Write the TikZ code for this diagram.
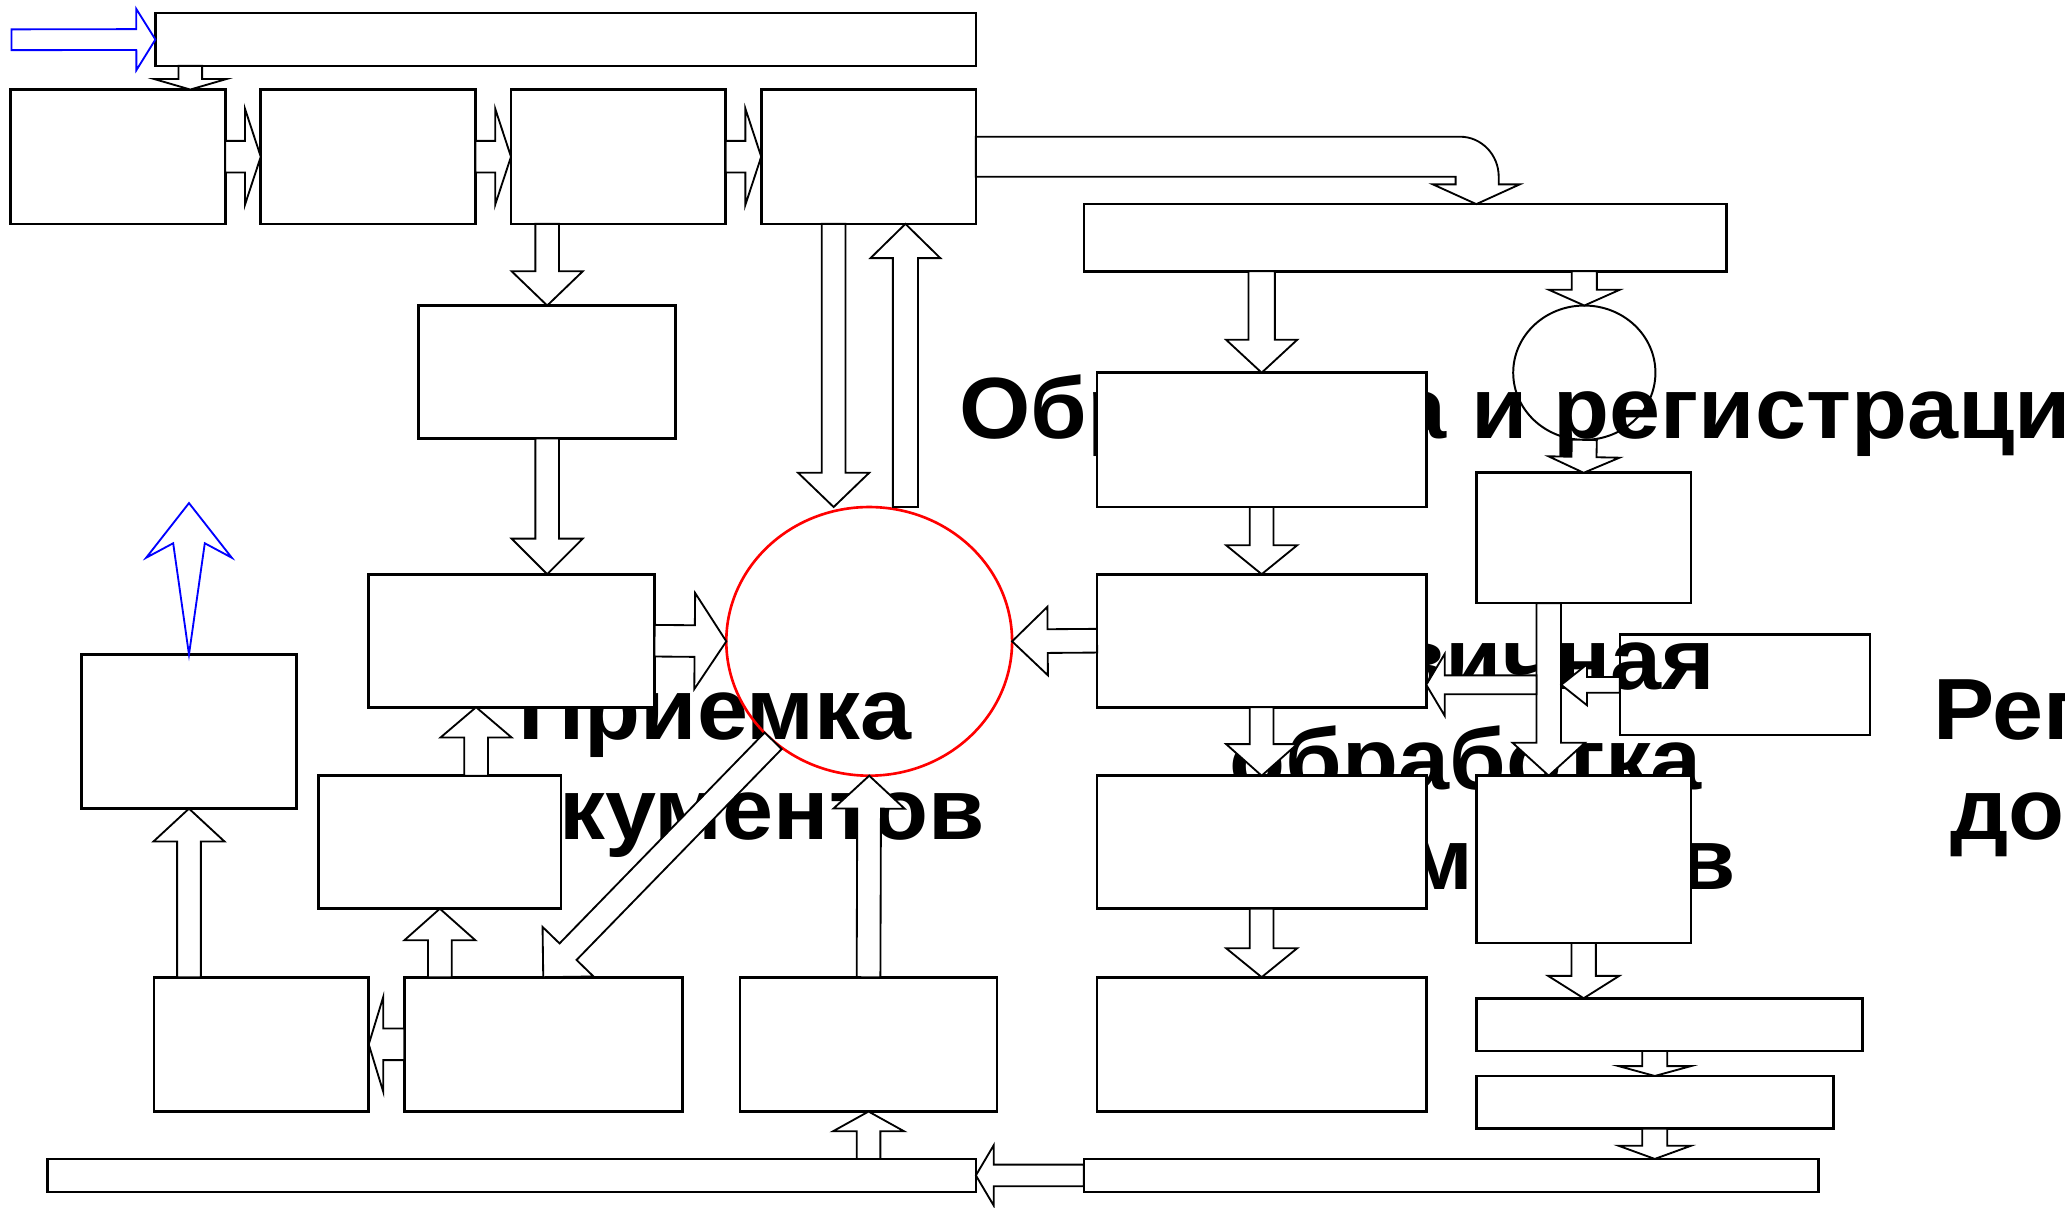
\documentclass[tikz,border=0pt]{standalone}
\usepackage{fontspec}
\setmainfont{Liberation Sans}
\newfontfamily\titlefont{Liberation Sans Bold}[FakeStretch=1.055]
\usetikzlibrary{calc,shapes.geometric}
\begin{document}
\begin{tikzpicture}[x=1pt, y=-1pt,
  boxnode/.style={draw=black, fill=white, line width=2pt, rectangle, inner sep=0pt, outer sep=0pt},
  blockarr/.style={draw=black, fill=white, line width=1.4pt, line join=miter},
  bigtext/.style={font=\titlefont\fontsize{66}{76}\selectfont, inner sep=0pt, align=center}]
% diagram in pixel units, y axis pointing down
\providecommand{\pbox}[5]{\node[boxnode, minimum width={#4pt-#2pt}, minimum height={#5pt-#3pt}] (#1) at ({(#2+#4)/2},{(#3+#5)/2}) {};}
\providecommand{\blockarr}[6][]{%
  \coordinate (ba-a) at #2; \coordinate (ba-b) at #3;
  \coordinate (ba-m) at ($(ba-b)!#6pt!(ba-a)$);
  \draw[blockarr,#1] ($(ba-a)!#4pt!90:(ba-b)$) -- ($(ba-m)!#4pt!90:(ba-b)$) -- ($(ba-m)!#5pt!90:(ba-b)$) -- (ba-b)
    -- ($(ba-m)!#5pt!-90:(ba-b)$) -- ($(ba-m)!#4pt!-90:(ba-b)$) -- ($(ba-a)!#4pt!-90:(ba-b)$) -- cycle;}
\useasboundingbox (0,0) rectangle (1568,917);
% Box lying under the text
\pbox{b18}{1230}{482}{1420}{558}
% Titles
\node[bigtext, anchor=base west] (ttl1) at (728,333) {Обработка и регистрация};
\node[bigtext, anchor=north] (ttl2) at (543,516) {Приемка\\документов};
\node[bigtext, anchor=north] (ttl3) at (1113,478) {Первичная\\обработка\\документов};
\node[bigtext, anchor=north] (ttl4) at (1686,516) {Регистрация\\документов};
% Boxes
\pbox{topbar}{118}{10}{741}{50}
\pbox{b1}{8}{68}{171}{170}
\pbox{b2}{198}{68}{361}{170}
\pbox{b3}{388}{68}{551}{170}
\pbox{b4}{578}{68}{741}{170}
\pbox{b5}{318}{232}{513}{333}
\pbox{b6}{280}{436}{497}{537}
\pbox{b7}{62}{497}{225}{614}
\pbox{b8}{242}{589}{426}{690}
\pbox{b9}{117}{742}{280}{844}
\pbox{b10}{307}{742}{518}{844}
\pbox{b11}{562}{742}{757}{844}
\pbox{botL}{36}{880}{741}{905}
\pbox{botR}{823}{880}{1381}{905}
\pbox{rbar}{823}{155}{1311}{206}
\pbox{b13}{833}{283}{1083}{385}
\pbox{b14}{833}{436}{1083}{537}
\pbox{b15}{833}{589}{1083}{690}
\pbox{b16}{833}{742}{1083}{844}
\pbox{b17}{1121}{359}{1284}{458}
\pbox{b19}{1121}{589}{1284}{716}
\pbox{b20}{1121}{758}{1414}{798}
\pbox{b21}{1121}{817}{1392}{857}
% Ellipses
\node[draw=red, line width=2pt, ellipse, minimum width=217pt, minimum height=204pt, inner sep=0pt, outer sep=0pt] (circ) at (660,487) {};
\node[draw=black, line width=1.5pt, ellipse, minimum width=108pt, minimum height=102pt, inner sep=0pt, outer sep=0pt] (disk) at (1203,283) {};
% Free ends
\coordinate (bluein) at (8.7,30.2);
\coordinate (circN1) at ([xshift=-27pt]circ.north);
\coordinate (circN2) at ([xshift=27.5pt]circ.north);
\coordinate (b8up) at ([xshift=27.5pt]b8.north);
\coordinate (b17dn) at ([xshift=-26.5pt]b17.south);
\coordinate (tapR) at (1185.5,521);
\coordinate (tapL) at (1166.7,520);
% Block arrows: from, to, shaft half width, head half width, head length
\blockarr[draw=blue]{(bluein)}{(topbar.west)}{7.9}{23.3}{14.5}
\blockarr{([xshift=26.5pt]topbar.south west)}{([xshift=55pt]b1.north)}{9}{27.5}{8}
\blockarr{(b1.east)}{(b2.west)}{12}{36.5}{12}
\blockarr{(b2.east)}{(b3.west)}{12}{36.5}{12}
\blockarr{(b3.east)}{(b4.west)}{12}{36.5}{12}
\blockarr{(b3.south -| b5.north)}{(b5.north)}{9}{27}{26}
\blockarr{(b5.south)}{(b5.south |- b6.north)}{9}{27}{27}
\blockarr{(b4.south -| circN1)}{(circN1)}{9}{27}{26}
\blockarr{(circN2)}{(b4.south -| circN2)}{9.5}{26.5}{26}
\blockarr{(b6.east)}{(circ.west)}{12}{36.5}{24}
\blockarr{(b14.west)}{(circ.east)}{9}{26}{27}
\blockarr{(b8up)}{(b6.south -| b8up)}{9}{27}{23}
\blockarr{(circ.226)}{(b10.north)}{9}{27}{27}
\blockarr{(b9.north -| b7.south)}{(b7.south)}{9}{27}{25}
\blockarr{(b10.north -| b8.south)}{(b8.south)}{9}{27}{24}
\blockarr{(b10.west)}{(b9.east)}{12}{36}{11}
\blockarr{(b11.north)}{(circ.south)}{9}{27}{25}
\blockarr{(botL.north -| b11.south)}{(b11.south)}{9}{27}{15}
\blockarr{(botR.west)}{(botL.east)}{8.2}{23}{13.6}
\blockarr{(rbar.south -| b13.north)}{(b13.north)}{10}{27}{25}
\blockarr{(rbar.south -| disk.north)}{(disk.north)}{9.5}{27}{12}
\blockarr{(disk.south)}{(b17.north)}{9.5}{27}{12}
\blockarr{(b13.south)}{(b14.north)}{9}{27}{22}
\blockarr{(b14.south)}{(b15.north)}{9}{27}{24}
\blockarr{(b15.south)}{(b16.north)}{9}{27}{22}
\blockarr{(b17dn)}{(b19.north -| b17dn)}{9.3}{27.5}{25}
\blockarr{(b18.west)}{(b18.west -| tapR)}{6}{15.5}{19.5}
\blockarr{(tapL)}{(b14.east |- tapL)}{7.2}{23.5}{14}
\blockarr{(b19.south)}{(b20.north -| b19.south)}{9.3}{27}{17}
\blockarr{(b20.south -| b21.north)}{(b21.north)}{9.5}{27.5}{7.5}
\blockarr{(b21.south)}{(botR.north -| b21.south)}{9.5}{27.5}{10}
% Bent arrow into the right bar
\draw[blockarr] ($(b4.east)+(0,-15.2)$) -- (1108.6,103.8) .. controls (1124.8,103.8) and (1138,117.4) .. (1138,134.2)
  -- (1138,140) -- (1154,140) -- ([xshift=54pt]rbar.north) -- (1088,140) -- (1105.3,140) -- (1105.3,134.2)
  -- ($(b4.east)+(0,15.2)$) -- cycle;
% Blue arrow leaving the left box
\draw[blockarr, draw=blue] (b7.north) -- ($(b7.north)+(-12,-84.5)$) -- ($(b7.north)+(-32.5,-73.5)$) -- ($(b7.north)+(0,-115)$)
  -- ($(b7.north)+(32.5,-73.5)$) -- ($(b7.north)+(12,-84.5)$) -- cycle;
\end{tikzpicture}
\end{document}
